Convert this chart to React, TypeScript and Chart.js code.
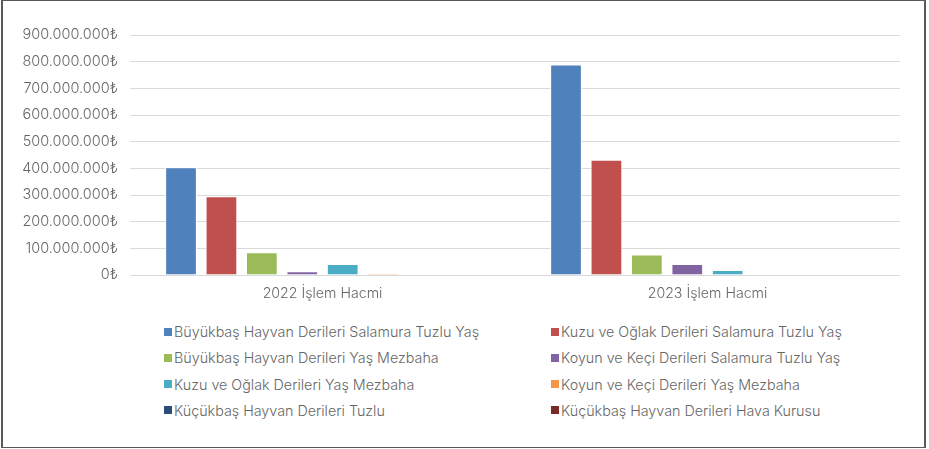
import React, { useEffect, useRef } from "react";
import { Chart, registerables } from "chart.js";
Chart.register(...registerables);

const categories = ["2022 İşlem Hacmi", "2023 İşlem Hacmi"];
const seriesNames = [
  "Büyükbaş Hayvan Derileri Salamura Tuzlu Yaş",
  "Kuzu ve Oğlak Derileri Salamura Tuzlu Yaş",
  "Büyükbaş Hayvan Derileri Yaş Mezbaha",
  "Koyun ve Keçi Derileri Salamura Tuzlu Yaş",
  "Kuzu ve Oğlak Derileri Yaş Mezbaha",
  "Koyun ve Keçi Derileri Yaş Mezbaha",
  "Küçükbaş Hayvan Derileri Tuzlu",
  "Küçükbaş Hayvan Derileri Hava Kurusu",
];
const buyukbasSalamura = [404000000, 789000000];
const kuzuSalamura = [295000000, 432000000];
const buyukbasMezbaha = [85000000, 77000000];
const koyunSalamura = [14000000, 41000000];
const kuzuMezbaha = [41000000, 19000000];
const koyunMezbaha = [5000000, 2000000];
const kucukbasTuzlu = [2000000, 2000000];
const kucukbasHava = [0, 0];
const seriesValues = [buyukbasSalamura, kuzuSalamura, buyukbasMezbaha, koyunSalamura, kuzuMezbaha, koyunMezbaha, kucukbasTuzlu, kucukbasHava];
const seriesColors = ["#4F81BD", "#C0504D", "#9BBB59", "#8064A2", "#4BACC6", "#F79646", "#2C4D75", "#772C2A"];
const yMax = 900000000;
const yStep = 100000000;

const FONT = "Inter";
const TEXT_COLOR = "#666666";

function fmt(v: number) {
  return String(Math.round(v)).replace(/\B(?=(\d{3})+(?!\d))/g, ".") + "₺";
}

export default function App() {
  const ref = useRef<HTMLCanvasElement>(null);
  useEffect(() => {
    document.body.style.margin = "0";
    const chart = new Chart(ref.current!, {
      type: "bar",
      data: {
        labels: categories,
        datasets: seriesNames.map((n, i) => ({
          label: n,
          data: seriesValues[i],
          backgroundColor: seriesColors[i],
          borderColor: "#ffffff",
          borderWidth: 1,
          categoryPercentage: 0.84,
          barPercentage: 0.785,
        })),
      },
      options: {
        responsive: false,
        animation: false,
        layout: { padding: { top: 35, right: 29, left: 0, bottom: 0 } },
        plugins: { legend: { display: false }, tooltip: { enabled: false } },
        scales: {
          x: {
            grid: { display: false, drawTicks: false },
            border: { display: false },
            ticks: { color: TEXT_COLOR, font: { family: FONT, size: 14.2, weight: "300" }, padding: 10 },
            afterFit: (s: any) => { s.height = 35; },
          },
          y: {
            min: 0,
            max: yMax,
            grid: { color: "#d9d9d9", drawTicks: false },
            border: { display: false },
            ticks: { stepSize: yStep, color: TEXT_COLOR, font: { family: FONT, size: 14.5, weight: "300" }, padding: 12, callback: (v: any) => fmt(Number(v)) },
            afterFit: (s: any) => { s.width = 130; },
          },
        },
      },
    });
    return () => chart.destroy();
  }, []);
  const colX = [164, 551];
  const rowY = [331.7, 357.7, 384.3, 410];
  return (
    <div style={{ position: "relative", width: 929, height: 449, background: "#fff", fontFamily: FONT }}>
      <div style={{ position: "absolute", left: 1, top: 0, width: 921, height: 446, borderTop: "1px solid #595959", borderBottom: "1px solid #595959", borderLeft: "2px solid #595959", borderRight: "2px solid #595959" }} />
      <canvas ref={ref} width={929} height={310} style={{ position: "absolute", left: 0, top: 0 }} />
      {seriesNames.map((n, i) => (
        <div
          key={n}
          style={{
            position: "absolute",
            left: colX[i % 2],
            top: rowY[Math.floor(i / 2)] - 10,
            height: 20,
            display: "flex",
            alignItems: "center",
            whiteSpace: "nowrap",
            fontSize: 14.3,
            fontWeight: 300,
            color: TEXT_COLOR,
          }}
        >
          <span style={{ display: "inline-block", width: 8, height: 8, background: seriesColors[i], marginRight: 2 }} />
          <span>{n}</span>
        </div>
      ))}
    </div>
  );
}
